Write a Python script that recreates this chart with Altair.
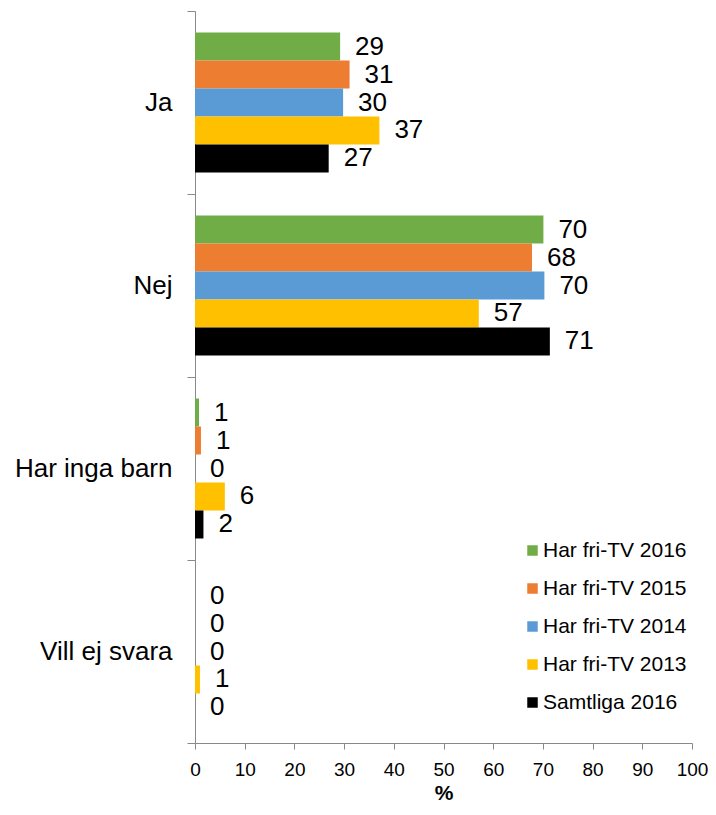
import altair as alt
import pandas as pd

categories = ["Ja", "Nej", "Har inga barn", "Vill ej svara"]
series = ["Har fri-TV 2016", "Har fri-TV 2015", "Har fri-TV 2014", "Har fri-TV 2013", "Samtliga 2016"]
colors = ["#70AD47", "#ED7D31", "#5B9BD5", "#FFC000", "#000000"]

values_2016 = [29.2, 70.1, 0.8, 0.0]
values_2015 = [31.1, 67.8, 1.2, 0.0]
values_2014 = [29.8, 70.3, 0.0, 0.0]
values_2013 = [37.1, 57.1, 6.0, 1.0]
values_samtliga = [26.9, 71.4, 1.7, 0.0]

x_ticks = list(range(0, 101, 10))

all_values = [values_2016, values_2015, values_2014, values_2013, values_samtliga]
rows = []
for s, vals in zip(series, all_values):
    for c, v in zip(categories, vals):
        rows.append({"cat": c, "series": s, "value": v})
df = pd.DataFrame(rows)

FONT = "Liberation Sans"
GRAY = "#898989"

base = alt.Chart(df).encode(
    y=alt.Y(
        "cat:N",
        sort=categories,
        scale=alt.Scale(paddingInner=0, paddingOuter=0),
        axis=alt.Axis(
            title=None,
            tickBand="extent",
            labelFontSize=26,
            labelColor="#000000",
            labelPadding=15,
            labelLimit=400,
            tickSize=8,
            domainColor=GRAY,
            tickColor=GRAY,
        ),
    ),
    yOffset=alt.YOffset(
        "series:N", sort=series, scale=alt.Scale(paddingInner=0, paddingOuter=0.768)
    ),
)

bars = base.mark_bar().encode(
    x=alt.X(
        "value:Q",
        scale=alt.Scale(domain=[0, 100]),
        axis=alt.Axis(
            title="%",
            values=x_ticks,
            grid=False,
            tickSize=6,
            labelFontSize=19,
            labelColor="#000000",
            labelPadding=11,
            labelFlush=False,
            titleFontSize=21,
            titleFontWeight="bold",
            titleColor="#000000",
            titlePadding=3,
            domainColor=GRAY,
            tickColor=GRAY,
        ),
    ),
    color=alt.Color(
        "series:N",
        sort=series,
        scale=alt.Scale(domain=series, range=colors),
        legend=alt.Legend(
            title=None,
            orient="none",
            legendX=327,
            legendY=529,
            labelFontSize=21,
            labelColor="#000000",
            symbolType="square",
            symbolSize=110,
            symbolStrokeWidth=0,
            rowPadding=16,
            labelOffset=0,
            padding=0,
        ),
    ),
)

text = base.mark_text(align="left", baseline="middle", dx=15, fontSize=26, color="#000000").encode(
    x=alt.X("value:Q"),
    text=alt.Text("value:Q", format=".0f"),
)

chart = (
    alt.layer(bars, text)
    .properties(
        width=497,
        height=732,
        autosize=alt.AutoSizeParams(type="none"),
        padding={"left": 187, "top": 3, "right": 16, "bottom": 64},
    )
    .configure(font=FONT)
    .configure_view(stroke=None)
)

chart.save("out.html", embed_options={"renderer": "svg", "actions": False})
